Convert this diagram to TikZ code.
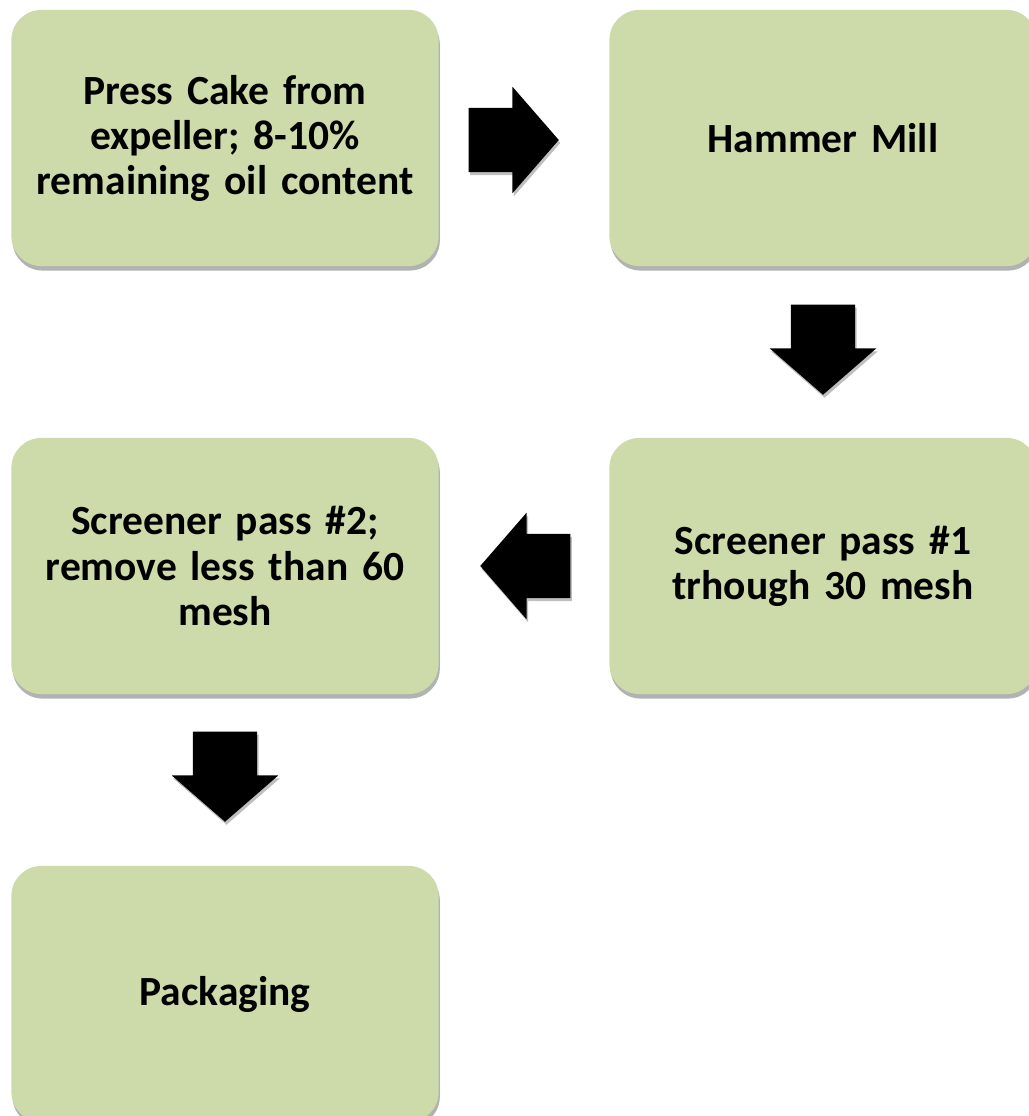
\documentclass[tikz,border=0pt]{standalone}
\usepackage{fontspec}
\setmainfont{Carlito}
\usetikzlibrary{shapes.arrows, shadows}
\definecolor{boxgreen}{RGB}{205,219,171}

\begin{document}
\begin{tikzpicture}[x=0.01cm,y=-0.01cm,
    stepbox/.style={rectangle, rounded corners=0.3cm, fill=boxgreen,
        minimum width=4.27cm, minimum height=2.56cm, text width=3.95cm, align=center,
        font=\bfseries\fontsize{11.8pt}{12.8pt}\selectfont,
        drop shadow={shadow xshift=0.012cm, shadow yshift=-0.045cm, opacity=0.3, fill=black}},
    flow/.style={single arrow, fill=black, inner xsep=0pt, inner ysep=0.315cm, anchor=tail,
        minimum height=0.9cm, single arrow head extend=0.21cm, single arrow tip angle=98,
        drop shadow={shadow xshift=0.015cm, shadow yshift=-0.03cm, opacity=0.25, fill=black}}]
    \useasboundingbox (0,0) rectangle (1028,1116);
    \node[stepbox] (press) at (225,138) {Press Cake from\\expeller; 8-10\%\\remaining oil content};
    \node[stepbox] (mill) at (823,138) {Hammer Mill};
    \node[stepbox] (screenA) at (823,566) {Screener pass \#1\\trhough 30 mesh};
    \node[stepbox] (screenB) at (225,566) {Screener pass \#2;\\remove less than 60\\mesh};
    \node[stepbox] (pack) at (225,994) {Packaging};
    \node[flow] (a1) at (468,140) {};
    \node[flow, rotate=-90] (a2) at (823,304) {};
    \node[flow, rotate=180] (a3) at (571,566) {};
    \node[flow, rotate=-90] (a4) at (225,731) {};
\end{tikzpicture}
\end{document}
